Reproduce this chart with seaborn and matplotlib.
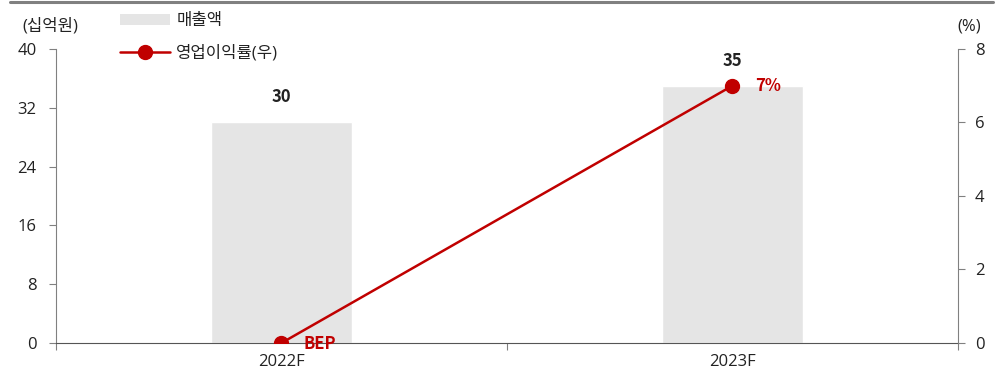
import matplotlib
matplotlib.use("Agg")
import matplotlib.pyplot as plt
from matplotlib.lines import Line2D
from matplotlib.patches import Patch
import seaborn as sns
import pandas as pd

categories = ["2022F", "2023F"]
sales = [30, 35]            # 매출액 (십억원)
op_margin = [0, 7]          # 영업이익률 (%)
margin_labels = ["BEP", "7%"]
left_ticks = [0, 8, 16, 24, 32, 40]
right_ticks = [0, 2, 4, 6, 8]

sns.set_style("white")
plt.rcParams["font.family"] = ["Open Sans", "Noto Sans CJK KR", "DejaVu Sans"]

BAR_COLOR = "#e5e5e5"
LINE_COLOR = "#c00000"
AXIS_COLOR = "#808080"
TEXT_COLOR = "#222222"
FS = 12
BOLD_FAMILY = ["Noto Sans CJK KR", "DejaVu Sans"]

df = pd.DataFrame({"category": categories, "sales": sales, "margin": op_margin})

fig = plt.figure(figsize=(10.03, 3.76), dpi=100)
ax = fig.add_axes([0.0558, 0.0878, 0.8993, 0.782])

sns.barplot(data=df, x="category", y="sales", color=BAR_COLOR, width=0.312,
            saturation=1, ax=ax)
ax.set_ylim(0, 40)
ax.set_yticks(left_ticks)
ax.set_xlim(-0.5, 1.5)
ax.set_xlabel("")
ax.set_ylabel("")

for i, v in enumerate(sales):
    ax.text(i, v + 3.4, f"{v}", ha="center", va="center", fontsize=FS,
            fontweight="bold", color=TEXT_COLOR, family=BOLD_FAMILY)

ax2 = ax.twinx()
ax2.plot(range(len(categories)), op_margin, color=LINE_COLOR, lw=1.8,
         marker="o", markersize=10, zorder=5)
ax2.set_ylim(0, 8)
ax2.set_yticks(right_ticks)
ax2.set_xlim(-0.5, 1.5)

ax2.text(0 + 0.048, op_margin[0] - 0.02, margin_labels[0], ha="left", va="center",
         fontsize=FS, fontweight="bold", color=LINE_COLOR, family=BOLD_FAMILY)
ax2.text(1 + 0.05, op_margin[1], margin_labels[1], ha="left", va="center",
         fontsize=FS, fontweight="bold", color=LINE_COLOR, family=BOLD_FAMILY)

# axes styling
for a in (ax, ax2):
    for s in a.spines.values():
        s.set_visible(False)
ax.spines["left"].set_visible(True)
ax.spines["left"].set_color(AXIS_COLOR)
ax.spines["bottom"].set_visible(True)
ax.spines["bottom"].set_color("#555555")
ax2.spines["right"].set_visible(True)
ax2.spines["right"].set_color(AXIS_COLOR)

ax.tick_params(axis="y", direction="out", length=5, color=AXIS_COLOR,
               labelsize=FS, labelcolor=TEXT_COLOR, pad=9, left=True)
ax2.tick_params(axis="y", direction="out", length=5, color=AXIS_COLOR,
                labelsize=FS, labelcolor=TEXT_COLOR, pad=7, right=True)

# category labels centred on bars, ticks at the category edges
ax.set_xticks([-0.5, 0.5, 1.5], minor=False)
ax.set_xticklabels(["", "", ""])
ax.tick_params(axis="x", direction="out", length=5, color=AXIS_COLOR, bottom=True)
ax.set_xticks([0, 1], minor=True)
ax.set_xticklabels(categories, minor=True)
ax.tick_params(axis="x", which="minor", length=0, labelsize=FS,
               labelcolor=TEXT_COLOR, pad=8)

fig.text(0.022, 0.93, "(십억원)", fontsize=FS, color=TEXT_COLOR, ha="left", va="center")
fig.text(0.978, 0.93, "(%)", fontsize=FS, color=TEXT_COLOR, ha="right", va="center")

handles = [
    Patch(facecolor=BAR_COLOR, edgecolor="none"),
    Line2D([0], [0], color=LINE_COLOR, lw=1.8, marker="o", markersize=10),
]
fig.legend(handles, ["매출액", "영업이익률(우)"], loc="upper left",
           bbox_to_anchor=(0.105, 1.005), frameon=False, fontsize=FS,
           handlelength=3.0, handleheight=0.6, labelspacing=0.95,
           handletextpad=0.35, labelcolor=TEXT_COLOR)

fig.add_artist(Line2D([0.01, 0.99], [0.995, 0.995], color=AXIS_COLOR, lw=2.2,
                      transform=fig.transFigure))

fig.savefig("out.png", dpi=100)
